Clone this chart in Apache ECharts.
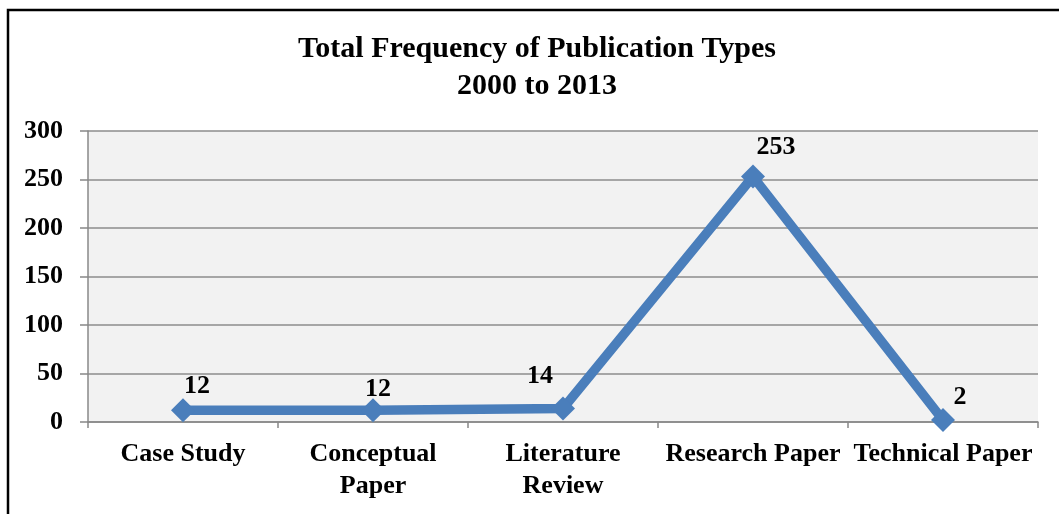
<!DOCTYPE html>
<html>
<head>
<meta charset="utf-8">
<script src="https://cdn.jsdelivr.net/npm/echarts@6/dist/echarts.min.js"></script>
<style>
html,body{margin:0;padding:0;background:#fff;}
#c{width:1059px;height:514px;}
</style>
</head>
<body>
<div id="c"></div>
<script>
var categories = ['Case Study', 'Conceptual\nPaper', 'Literature\nReview', 'Research Paper', 'Technical Paper'];
var values = [12, 12, 14, 253, 2];
var yTicks = [0, 50, 100, 150, 200, 250, 300];
var titleLines = ['Total Frequency of Publication Types', '2000 to 2013'];
var labelOffsets = [[14, -24], [5, -21], [-23, -32], [23, -29], [17, -23]];

var FONT = '"Liberation Serif", "Times New Roman", serif';
var chart = echarts.init(document.getElementById('c'), null, {renderer: 'canvas'});
chart.setOption({
  backgroundColor: '#ffffff',
  animation: false,
  graphic: [
    {type: 'rect', shape: {x: 8, y: 10, width: 1200, height: 700},
     style: {fill: 'none', stroke: '#000', lineWidth: 2.5}, z: 100},
    {type: 'text', x: 537, y: 31, z: 100,
     style: {text: titleLines.join('\n'), fontFamily: FONT, fontWeight: 'bold', fontSize: 30,
             lineHeight: 37, fill: '#000', textAlign: 'center', textVerticalAlign: 'top'}}
  ],
  grid: {left: 88, right: 21, top: 131, bottom: 92, show: true, backgroundColor: '#f2f2f2', borderWidth: 0},
  xAxis: {
    type: 'category', data: categories, boundaryGap: true,
    axisLine: {show: true, lineStyle: {color: '#888', width: 1.5}},
    axisTick: {show: true, length: 6, alignWithLabel: false, lineStyle: {color: '#888', width: 1.5}},
    axisLabel: {fontFamily: FONT, fontWeight: 'bold', fontSize: 26, color: '#000', lineHeight: 32, margin: 16, interval: 0}
  },
  yAxis: {
    type: 'value', min: 0, max: 300, interval: 50,
    axisLine: {show: true, lineStyle: {color: '#888', width: 1.5}},
    axisTick: {show: true, length: 8, lineStyle: {color: '#888', width: 1.5}},
    splitLine: {show: true, lineStyle: {color: '#8c8c8c', width: 1.5}},
    axisLabel: {fontFamily: FONT, fontWeight: 'bold', fontSize: 26, color: '#000', margin: 25,
      formatter: function (v) { return yTicks.indexOf(v) >= 0 ? String(v) : ''; }}
  },
  series: [{
    type: 'line',
    data: values.map(function (v, i) {
      return {value: v, label: {offset: labelOffsets[i]}};
    }),
    symbol: 'diamond', symbolSize: 24,
    lineStyle: {color: '#4a7ebb', width: 9.5},
    itemStyle: {color: '#4a7ebb'},
    label: {show: true, position: 'inside', fontFamily: FONT, fontWeight: 'bold', fontSize: 26, color: '#000'}
  }]
});
</script>
</body>
</html>
